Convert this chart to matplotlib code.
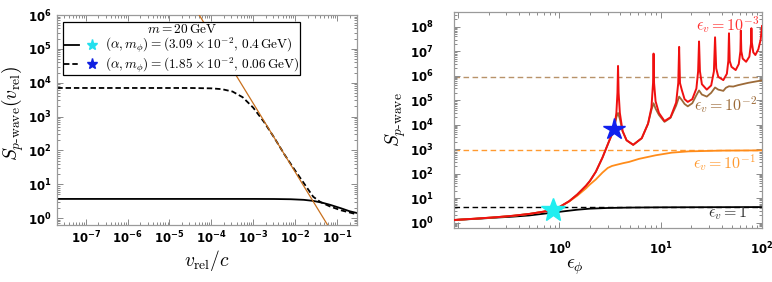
import numpy as np
import matplotlib
matplotlib.use("Agg")
import matplotlib.pyplot as plt
from matplotlib.lines import Line2D
from matplotlib.legend_handler import HandlerTuple
from matplotlib.ticker import LogLocator, NullFormatter, FuncFormatter

plt.rcParams['mathtext.fontset'] = 'cm'
plt.rcParams['font.family'] = 'DejaVu Sans'

# ---- left panel: S(v_rel) ----
v_solid = [2.1e-8, 1e-3, 3.2e-3, 7.9e-3, 1.6e-2, 2.7e-2, 4.5e-2, 6.9e-2, 0.126, 0.2, 0.3]
S_solid = [3.7, 3.7, 3.68, 3.62, 3.48, 3.24, 2.85, 2.47, 1.95, 1.6, 1.42]

v_dash = [2.1e-8, 3.2e-5, 1e-4, 1.8e-4, 3.2e-4, 5.6e-4, 1e-3, 1.8e-3, 3.2e-3, 5.6e-3,
          1e-2, 1.6e-2, 2.7e-2, 4e-2, 6.9e-2, 0.126, 0.245, 0.3]
S_dash = [7000, 6990, 6820, 6440, 5490, 3720, 1830, 700, 234, 75,
          25.5, 11, 4.3, 3.0, 2.2, 1.7, 1.38, 1.3]

v_asym = [3.2e-5, 0.1]
S_asym = [2.6e6, 0.22]

# ---- right panel: S vs eps_phi ----
eps_black = [0.09, 0.15, 0.24, 0.35, 0.5, 0.7, 1.0, 1.5, 2, 3, 5, 10, 30, 100]
S_black = [1.27, 1.42, 1.6, 1.75, 1.95, 2.3, 2.75, 3.35, 3.7, 3.95, 4.1, 4.2, 4.25, 4.3]

eps_orange = [0.09, 0.15, 0.24, 0.35, 0.51, 0.7, 0.86, 1.0, 1.25, 1.5, 1.83, 2.0, 2.29,
              2.66, 3.0, 3.3, 3.6, 4.3, 4.86, 6.1, 8.9, 12.9, 18.8, 40, 100]
S_orange = [1.27, 1.45, 1.66, 1.9, 2.27, 2.8, 3.4, 4.3, 7.3, 12.5, 25, 36, 58,
            110, 170, 205, 225, 270, 300, 400, 560, 720, 810, 870, 890]

eps_brown = [0.09, 0.15, 0.24, 0.35, 0.51, 0.7, 0.86, 1.0, 1.25, 1.5, 1.83, 2.0, 2.29, 2.66,
             3.09, 3.46, 3.65, 3.79, 3.95, 4.2, 4.6, 5.35, 6.5, 7.5, 8.1, 8.5, 8.9, 9.6,
             10.9, 12.5, 14.2, 15.2, 16.2, 17.2, 18.5, 20.5, 22.5, 23.9, 25.5, 28.5, 31.5,
             34.4, 37, 41.5, 44, 47.2, 52, 58, 73, 95, 100]
S_brown = [1.27, 1.45, 1.66, 1.9, 2.27, 2.8, 3.4, 4.3, 7.5, 14, 32, 50, 120, 450,
           2100, 6500, 2.0e4, 3.0e4, 1.7e4, 5500, 2300, 1500, 2800, 1.1e4, 4e4, 7.5e4, 4.5e4, 2.5e4,
           1.3e4, 1.9e4, 6e4, 1.4e5, 1e5, 7e4, 5.6e4, 7.5e4, 1.6e5, 2.5e5, 1.7e5, 1.4e5, 2e5,
           3.3e5, 2.7e5, 2.4e5, 3.2e5, 3.7e5, 3.6e5, 4.1e5, 5.1e5, 6.2e5, 6.4e5]

eps_red = [0.09, 0.15, 0.24, 0.35, 0.51, 0.7, 0.86, 1.0, 1.25, 1.5,
           1.83, 2.0, 2.29, 2.66, 3.09, 3.46, 3.65, 3.74, 3.79, 3.84,
           3.95, 4.2, 4.6, 5.35, 6.5, 7.5, 8.1, 8.4, 8.5, 8.6,
           8.9, 9.6, 10.9, 12.5, 14.2, 14.9, 15.2, 15.5, 16.2, 17.2,
           18.5, 20.5, 22.5, 23.4, 23.9, 24.4, 25.5, 28.5, 31.5, 33.5,
           34.4, 35.3, 37, 41.5, 45, 46.5, 47.2, 48, 50, 55,
           59, 61.2, 61.8, 62.5, 64.5, 69.7, 75, 77.8, 78.6, 79.5,
           82, 86, 92, 97, 100]
S_red = [1.27, 1.45, 1.66, 1.9, 2.27, 2.8, 3.4, 4.3, 7.5, 14,
         32, 50, 120, 450, 2100, 6500, 3e4, 2e5, 2.5e6, 2e5,
         3e4, 5500, 2300, 1500, 2800, 1.1e4, 5e4, 5e5, 8e6, 5e5,
         9e4, 3e4, 1.4e4, 2e4, 8e4, 5e5, 1.5e7, 5e5, 2.5e5, 1.1e5,
         8.5e4, 1.1e5, 3e5, 1.5e6, 2.5e7, 1.5e6, 4.5e5, 2.7e5, 4e5, 1.5e6,
         3.7e7, 2e6, 9e5, 6.6e5, 1.2e6, 4e6, 5.4e7, 4e6, 2.3e6, 1.7e6,
         3e6, 1e7, 6.9e7, 1e7, 5e6, 3.7e6, 6e6, 2e7, 8.7e7, 2.2e7,
         9e6, 7e6, 1.2e7, 3e7, 1.07e8]

limit_levels = [8.5e5, 890, 4.5]  # eps_v -> 0 limits (brown, orange, black)

star_cyan = (0.86, 3.35)
star_blue = (3.48, 6400)


def pow10(x, pos):
    e = int(round(np.log10(x)))
    return r"$\mathbf{10^{%d}}$" % e


def pow10_pos(x, pos):
    # right panel x axis only labels 10^0 .. 10^2
    if x < 0.5:
        return ""
    return pow10(x, pos)


def style_axes(ax, xpad, ypad, xfmt=pow10):
    for s in ax.spines.values():
        s.set_color("#9a9a9a")
        s.set_linewidth(0.9)
    ax.xaxis.set_major_locator(LogLocator(base=10, numticks=30))
    ax.yaxis.set_major_locator(LogLocator(base=10, numticks=30))
    ax.xaxis.set_minor_locator(LogLocator(base=10, subs=np.arange(2, 10), numticks=100))
    ax.yaxis.set_minor_locator(LogLocator(base=10, subs=np.arange(2, 10), numticks=100))
    ax.xaxis.set_minor_formatter(NullFormatter())
    ax.yaxis.set_minor_formatter(NullFormatter())
    ax.xaxis.set_major_formatter(FuncFormatter(xfmt))
    ax.yaxis.set_major_formatter(FuncFormatter(pow10))
    ax.tick_params(which="both", direction="in", top=True, right=True, color="#8a8a8a", width=0.7)
    ax.tick_params(which="major", length=4)
    ax.tick_params(which="minor", length=2)
    ax.tick_params(axis="x", pad=xpad, labelsize=8.5)
    ax.tick_params(axis="y", pad=ypad, labelsize=8.5)


def sans_ticklabels(ax):
    for lab in ax.get_xticklabels() + ax.get_yticklabels():
        lab.set_math_fontfamily("dejavusans")


fig = plt.figure(figsize=(7.72, 2.82), dpi=100)
ax1 = fig.add_axes([57.3 / 772, 1 - 224.5 / 282, (357 - 57.3) / 772, (224.5 - 15) / 282])
ax2 = fig.add_axes([453.5 / 772, 1 - 228 / 282, (762 - 453.5) / 772, (228 - 12) / 282])

# left
ax1.set_xscale("log")
ax1.set_yscale("log")
ax1.plot(v_asym, S_asym, color="#c8701e", lw=0.9, zorder=3)
ax1.plot(v_solid, S_solid, color="k", lw=1.3, zorder=2)
ax1.plot(v_dash, S_dash, color="k", lw=1.3, dashes=(3, 1.6), zorder=2)
ax1.set_xlim(2.1e-8, 0.3)
ax1.set_ylim(0.65, 1e6)
style_axes(ax1, 4, 4)
ax1.set_xlabel(r"$v_{\rm rel}/c$", fontsize=14)
ax1.set_ylabel(r"$S_{p\text{-wave}}(v_{\rm rel})$", fontsize=14)
ax1.xaxis.set_label_coords(0.5, -0.11)
ax1.yaxis.set_label_coords(-0.105, 0.53)

h1 = (Line2D([], [], color="k", lw=1.3),
      Line2D([], [], marker="*", color="#22e0ee", ls="none", ms=8))
h2 = (Line2D([], [], color="k", lw=1.3, dashes=(3, 1.6)),
      Line2D([], [], marker="*", color="#1020e0", ls="none", ms=8))
leg = ax1.legend([h1, h2],
                 [r"$(\alpha, m_\phi) = (3.09\times 10^{-2},\, 0.4\,\mathrm{GeV})$",
                  r"$(\alpha, m_\phi) = (1.85\times 10^{-2},\, 0.06\,\mathrm{GeV})$"],
                 title=r"$m = 20\,\mathrm{GeV}$",
                 handler_map={tuple: HandlerTuple(ndivide=None, pad=0.4)},
                 loc="upper left", bbox_to_anchor=(0.02, 0.967), borderaxespad=0,
                 fontsize=9.6, title_fontsize=9.6, handlelength=2.7, handletextpad=0.4,
                 handleheight=0.5, borderpad=0.05, labelspacing=0.0, fancybox=False,
                 framealpha=1, edgecolor="k")
leg.get_frame().set_linewidth(0.9)
leg._legend_box.sep = 0

# right
ax2.set_xscale("log")
ax2.set_yscale("log")
for lvl, c in zip(limit_levels, ["#b8936a", "#ff9a30", "k"]):
    ax2.axhline(lvl, color=c, lw=1.0, dashes=(4, 2.5), zorder=1)
ax2.plot(eps_black, S_black, color="k", lw=1.3, zorder=2)
ax2.plot(eps_orange, S_orange, color="#ff8c1a", lw=1.3, zorder=3)
ax2.plot(eps_brown, S_brown, color="#9c6a38", lw=1.3, zorder=4)
ax2.plot(eps_red, S_red, color="#f01010", lw=1.4, zorder=5)
ax2.plot(*star_cyan, marker="*", color="#20eef0", ms=18, zorder=6)
ax2.plot(*star_blue, marker="*", color="#1020ee", ms=16, zorder=6)
ax2.set_xlim(0.09, 100)
ax2.set_ylim(0.6, 4e8)
style_axes(ax2, 9, 14.5, xfmt=pow10_pos)
ax2.set_xlabel(r"$\epsilon_\phi$", fontsize=14)
ax2.set_ylabel(r"$S_{p\text{-wave}}$", fontsize=14)
ax2.xaxis.set_label_coords(0.395, -0.135)
ax2.yaxis.set_label_coords(-0.148, 0.5)

lab_kw = dict(fontsize=11.5, transform=ax2.transAxes, va="center", ha="right")
ax2.text(0.99, 0.94, r"$\epsilon_v = 10^{-3}$", color="#ff3030", **lab_kw)
ax2.text(0.985, 0.569, r"$\epsilon_v = 10^{-2}$", color="#9c6a38", **lab_kw)
ax2.text(0.98, 0.301, r"$\epsilon_v = 10^{-1}$", color="#ff9a30", **lab_kw)
ax2.text(0.955, 0.069, r"$\epsilon_v = 1$", color="#333333", **lab_kw)

fig.canvas.draw()
sans_ticklabels(ax1)
sans_ticklabels(ax2)
fig.savefig("out.png", dpi=100)
